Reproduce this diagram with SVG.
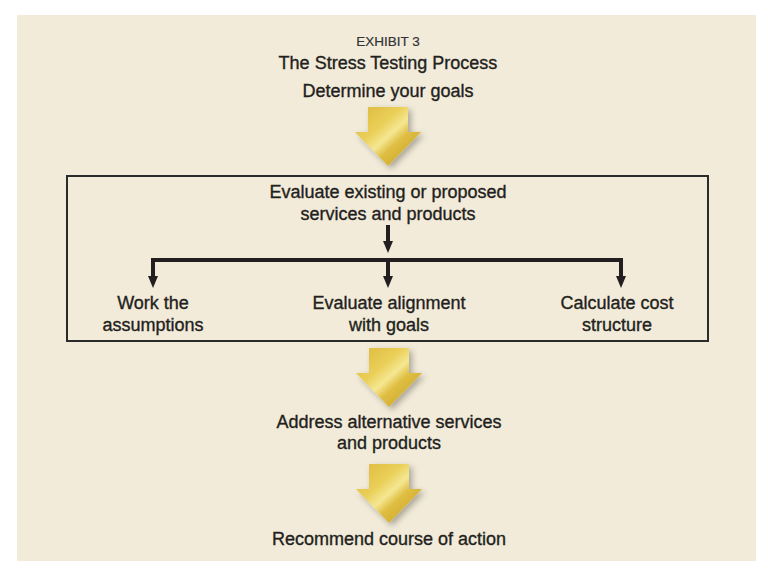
<svg xmlns="http://www.w3.org/2000/svg" width="768" height="573" viewBox="0 0 768 573">
<defs>
<style>
.t{font-family:"Liberation Sans",Arial,sans-serif;font-size:18px;fill:#231f20;stroke:#231f20;stroke-width:0.35px;text-anchor:middle}
.sm{font-size:13.5px;stroke-width:0.2px;fill:#333;stroke:#333}
.ln{stroke:#231f20;stroke-width:4;fill:none}
.ah{fill:#231f20}
.gold{fill:url(#g);filter:url(#sh)}
</style>
<linearGradient id="g" x1="0" y1="0" x2="1" y2="1">
<stop offset="0" stop-color="#dcb83c"/>
<stop offset="0.35" stop-color="#eacf58"/>
<stop offset="0.5" stop-color="#f5e792"/>
<stop offset="0.62" stop-color="#dfbe42"/>
<stop offset="1" stop-color="#c49c22"/>
</linearGradient>
<filter id="sh" x="-30%" y="-20%" width="170%" height="160%">
<feDropShadow dx="3" dy="3" stdDeviation="3" flood-color="#000" flood-opacity="0.3"/>
</filter>
<path id="ga" d="M-20,0 H20 V25 H33 L0,59 L-33,25 H-20 Z"/>
<path id="sa" d="M-5,0 H5 L0,12 Z"/>
</defs>
<rect width="768" height="573" fill="#fff"/>
<rect x="17" y="15" width="739" height="546" fill="#f2ebd9"/>
<g id="header">
<text class="t sm" x="388" y="46">EXHIBIT 3</text>
<text class="t" x="388" y="69">The Stress Testing Process</text>
</g>
<g id="goals">
<text class="t" x="388" y="97">Determine your goals</text>
</g>
<g id="evaluate-box">
<rect x="67" y="176" width="641" height="165" fill="none" stroke="#2b2b2b" stroke-width="2"/>
</g>
<g id="evaluate">
<text class="t" x="388" y="198">Evaluate existing or proposed</text>
<text class="t" x="388" y="220">services and products</text>
</g>
<g id="work">
<text class="t" x="153" y="309">Work the</text>
<text class="t" x="153" y="331">assumptions</text>
</g>
<g id="alignment">
<text class="t" x="389" y="309">Evaluate alignment</text>
<text class="t" x="389" y="331">with goals</text>
</g>
<g id="cost">
<text class="t" x="617" y="309">Calculate cost</text>
<text class="t" x="617" y="331">structure</text>
</g>
<g id="alternatives">
<text class="t" x="389" y="428">Address alternative services</text>
<text class="t" x="389" y="449">and products</text>
</g>
<g id="recommend">
<text class="t" x="389" y="545">Recommend course of action</text>
</g>
<g id="connectors">
<use href="#ga" class="gold" transform="translate(388,107)"/>
<use href="#ga" class="gold" transform="translate(389,348)"/>
<use href="#ga" class="gold" transform="translate(389,464)"/>
<line class="ln" x1="388" y1="225" x2="388" y2="243"/>
<use href="#sa" class="ah" transform="translate(388,241)"/>
<path class="ln" d="M153,278 V260 H621 V278"/>
<line class="ln" x1="388" y1="260" x2="388" y2="278"/>
<use href="#sa" class="ah" transform="translate(153,276)"/>
<use href="#sa" class="ah" transform="translate(388,276)"/>
<use href="#sa" class="ah" transform="translate(621,276)"/>
</g>
</svg>
